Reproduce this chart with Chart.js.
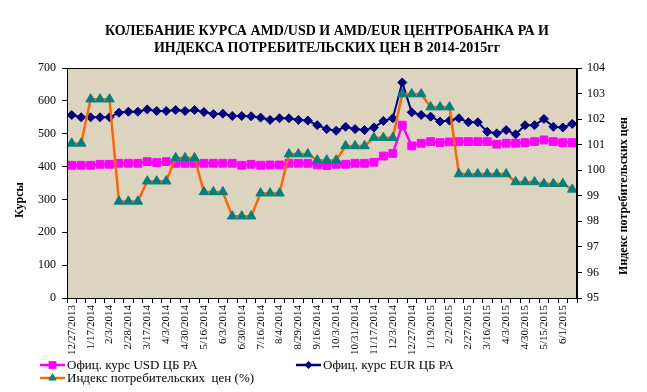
<!DOCTYPE html>
<html><head><meta charset="utf-8">
<script src="https://cdn.jsdelivr.net/npm/chart.js@4.4.1/dist/chart.umd.min.js"></script>
<style>html,body{margin:0;padding:0;background:#fff;}#wrap{width:647px;height:392px;position:relative;}</style>
</head><body><div id="wrap"><canvas id="c" width="647" height="392"></canvas></div>
<script>
// Shown date labels (every other category)
const tickLabels = ['12/27/2013','1/17/2014','2/3/2014','2/28/2014','3/17/2014','4/3/2014','4/30/2014','5/16/2014','6/3/2014','6/30/2014','7/16/2014','8/4/2014','8/29/2014','9/16/2014','10/3/2014','10/31/2014','11/17/2014','12/3/2014','12/27/2014','1/19/2015','2/2/2015','2/27/2015','3/16/2015','4/3/2015','4/30/2015','5/15/2015','6/1/2015'];
const usdRate = [404,404,404,407,407,410,410,410,415,412,415,410,410,410,410,410,410,410,404,407,404,405,405,410,410,410,405,403,407,407,410,410,413,432,440,526,463,471,476,473,475,476,476,476,476,468,471,471,473,476,481,476,473,473];
const eurRate = [557,550,550,550,550,564,567,567,574,569,569,572,569,572,566,560,561,554,554,553,549,542,547,547,542,540,526,514,509,521,514,511,519,539,547,656,565,557,552,537,540,547,535,535,506,501,511,498,526,526,545,521,519,530];
const cpiIndex = [101.05,101.05,102.78,102.78,102.78,98.78,98.78,98.78,99.57,99.57,99.57,100.48,100.48,100.48,99.15,99.15,99.15,98.2,98.2,98.2,99.1,99.1,99.1,100.63,100.63,100.63,100.39,100.39,100.39,100.95,100.95,100.95,101.27,101.27,101.27,102.98,102.98,102.98,102.47,102.47,102.47,99.85,99.85,99.85,99.85,99.85,99.85,99.54,99.54,99.54,99.47,99.47,99.47,99.25];
const leftTicks = [0,100,200,300,400,500,600,700];
const rightTicks = [95,96,97,98,99,100,101,102,103,104];
const titleLines = ['КОЛЕБАНИЕ КУРСА AMD/USD И AMD/EUR ЦЕНТРОБАНКА РА И','ИНДЕКСА ПОТРЕБИТЕЛЬСКИХ ЦЕН В 2014-2015гг'];
const seriesNames = ['Офиц. курс USD ЦБ РА','Офиц. курс EUR ЦБ РА','Индекс потребительских  цен (%)'];
const leftTitle = 'Курсы';
const rightTitle = 'Индекс потребительских цен';

// categories: one per data point, labels on every other one
const categories = [];
tickLabels.forEach(d => { categories.push(d); categories.push(''); });

const SERIF = "'Liberation Serif','Times New Roman',serif";
Chart.defaults.font.family = SERIF;
Chart.defaults.color = '#000';

function marker(ctx, style, x, y, r, fill) {
  ctx.save(); ctx.fillStyle = fill; ctx.strokeStyle = fill; ctx.beginPath();
  if (style === 'rect') { const s = r*Math.SQRT1_2; ctx.rect(x-s, y-s, 2*s, 2*s); }
  else if (style === 'rectRot') { ctx.moveTo(x, y-r); ctx.lineTo(x+r, y); ctx.lineTo(x, y+r); ctx.lineTo(x-r, y); ctx.closePath(); }
  else { ctx.moveTo(x, y-r); ctx.lineTo(x+r*0.866, y+r*0.5); ctx.lineTo(x-r*0.866, y+r*0.5); ctx.closePath(); }
  ctx.fill(); ctx.restore();
}

const deco = {
  id: 'deco',
  beforeDraw(chart) {
    const {ctx, chartArea: a} = chart;
    ctx.save();
    ctx.fillStyle = '#fff'; ctx.fillRect(0, 0, chart.width, chart.height);
    ctx.fillStyle = '#DDD4C0'; ctx.fillRect(a.left, a.top, a.right - a.left, a.bottom - a.top);
    ctx.restore();
  },
  afterDraw(chart) {
    const {ctx, chartArea: a} = chart;
    ctx.save();
    ctx.strokeStyle = '#000'; ctx.lineWidth = 1;
    ctx.strokeRect(a.left + 0.5, a.top + 0.5, a.right - a.left - 1, a.bottom - a.top);
    // title
    ctx.fillStyle = '#000'; ctx.textAlign = 'center'; ctx.textBaseline = 'middle';
    ctx.font = 'bold 14px ' + SERIF;
    ctx.fillText(titleLines[0], 327, 31);
    ctx.fillText(titleLines[1], 327, 48);
    // axis titles
    ctx.font = 'bold 12px ' + SERIF;
    ctx.save(); ctx.translate(20, 200); ctx.rotate(-Math.PI/2); ctx.fillText(leftTitle, 0, 0); ctx.restore();
    ctx.save(); ctx.translate(624, 196); ctx.rotate(-Math.PI/2); ctx.fillText(rightTitle, 0, 0); ctx.restore();
    // legend
    const items = [
      {x: 40, y: 365, line: '#FF00FF', mk: '#FF00FF', st: 'rect', r: 5.5},
      {x: 296, y: 365, line: '#000080', mk: '#000080', st: 'rectRot', r: 4},
      {x: 40, y: 378, line: '#FF6600', mk: '#008080', st: 'triangle', r: 5}
    ];
    ctx.font = '13px ' + SERIF; ctx.textAlign = 'left';
    items.forEach((it, i) => {
      ctx.strokeStyle = it.line; ctx.lineWidth = 2.5;
      ctx.beginPath(); ctx.moveTo(it.x, it.y); ctx.lineTo(it.x + 25, it.y); ctx.stroke();
      marker(ctx, it.st, it.x + 12.5, it.y, it.r, it.mk);
      ctx.fillStyle = '#000';
      ctx.fillText(seriesNames[i], it.x + 27, it.y + 1);
    });
    ctx.restore();
  }
};

new Chart(document.getElementById('c'), {
  type: 'line',
  data: {
    labels: categories,
    datasets: [
      {label: seriesNames[0], data: usdRate, yAxisID: 'y', borderColor: '#FF00FF', backgroundColor: '#FF00FF',
       pointStyle: 'rect', pointRadius: 5.5, pointBorderWidth: 1, borderWidth: 2.5, tension: 0, order: 3},
      {label: seriesNames[1], data: eurRate, yAxisID: 'y', borderColor: '#000080', backgroundColor: '#000080',
       pointStyle: 'rectRot', pointRadius: 4.5, pointBorderWidth: 1, borderWidth: 2, tension: 0, order: 2},
      {label: seriesNames[2], data: cpiIndex, yAxisID: 'y1', borderColor: '#FF6600', backgroundColor: '#008080',
       pointBackgroundColor: '#008080', pointBorderColor: '#008080',
       pointStyle: 'triangle', pointRadius: 5.5, pointBorderWidth: 1, borderWidth: 2.5, tension: 0, order: 1}
    ]
  },
  options: {
    responsive: false, animation: false, devicePixelRatio: 1,
    layout: {padding: {top: 68, bottom: 0, left: 0, right: 0}},
    plugins: {legend: {display: false}, tooltip: {enabled: false}, title: {display: false}},
    scales: {
      x: {
        offset: true,
        grid: {display: true, drawOnChartArea: false, offset: true, color: '#000', tickLength: 5},
        border: {color: '#000', width: 1},
        ticks: {autoSkip: false, maxRotation: 90, minRotation: 90, padding: 2, font: {size: 11}, color: '#000'},
        afterFit(s) { s.height = 94; }
      },
      y: {
        position: 'left', min: 0, max: 700,
        afterBuildTicks(s) { s.ticks = leftTicks.map(v => ({value: v})); },
        grid: {drawOnChartArea: false, color: '#000', tickLength: 5},
        border: {color: '#000', width: 1},
        ticks: {padding: 6, font: {size: 12}, color: '#000'},
        afterFit(s) { s.width = 67; }
      },
      y1: {
        position: 'right', min: 95, max: 104,
        afterBuildTicks(s) { s.ticks = rightTicks.map(v => ({value: v})); },
        grid: {drawOnChartArea: false, color: '#000', tickLength: 5},
        border: {color: '#000', width: 1},
        ticks: {padding: 5, font: {size: 12}, color: '#000'},
        afterFit(s) { s.width = 70; }
      }
    }
  },
  plugins: [deco]
});
</script></body></html>
